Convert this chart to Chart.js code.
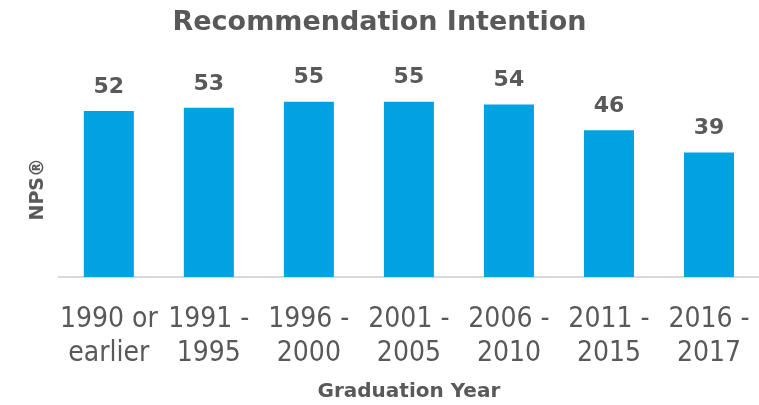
<!DOCTYPE html>
<html>
<head>
<meta charset="utf-8">
<script src="https://cdn.jsdelivr.net/npm/chart.js@4"></script>
<style>
  html, body { margin: 0; padding: 0; background: #fff; }
  #wrap { width: 759px; height: 405px; }
</style>
</head>
<body>
<div id="wrap"><canvas id="npsChart"></canvas></div>
<script>
// categories (graduation year buckets) and NPS values
const gradYears = [
  ['1990 or', 'earlier'],
  ['1991 -', '1995'],
  ['1996 -', '2000'],
  ['2001 -', '2005'],
  ['2006 -', '2010'],
  ['2011 -', '2015'],
  ['2016 -', '2017']
];
const npsValues = [52, 53, 55, 55, 54, 46, 39];

const TEXT = '#595959';
const WIDE = "'DejaVu Sans', Verdana, sans-serif";
const NARROW = "'DejaVu Sans Condensed', 'DejaVu Sans', sans-serif";

// draws the value above each bar
const valueLabels = {
  id: 'valueLabels',
  afterDatasetsDraw(chart) {
    const ctx = chart.ctx;
    const meta = chart.getDatasetMeta(0);
    ctx.save();
    ctx.font = 'bold 22px ' + WIDE;
    ctx.fillStyle = TEXT;
    ctx.textAlign = 'center';
    ctx.textBaseline = 'middle';
    meta.data.forEach((bar, i) => {
      ctx.fillText(npsValues[i], bar.x, bar.y - 24);
    });
    ctx.restore();
  }
};

new Chart(document.getElementById('npsChart'), {
  type: 'bar',
  data: {
    labels: gradYears,
    datasets: [{
      data: npsValues,
      backgroundColor: '#00A3E0',
      barPercentage: 0.5,
      categoryPercentage: 1
    }]
  },
  options: {
    responsive: true,
    maintainAspectRatio: false,
    animation: false,
    layout: { padding: { left: 0, right: 0, top: 0, bottom: 2 } },
    plugins: {
      legend: { display: false },
      tooltip: { enabled: false },
      title: {
        display: true,
        text: 'Recommendation Intention',
        color: TEXT,
        font: { family: WIDE, size: 27, weight: 'bold', lineHeight: 1.2 },
        padding: { top: 7, bottom: 62 }
      }
    },
    scales: {
      x: {
        // tick marks hidden, tickLength only used as the gap under the axis line
        grid: { display: false, drawTicks: true, tickLength: 25 },
        border: { display: true, color: '#D9D9D9', width: 2 },
        ticks: {
          color: TEXT,
          padding: 0,
          autoSkip: false,
          maxRotation: 0,
          minRotation: 0,
          font: { family: NARROW, size: 28, lineHeight: '34.5px' }
        },
        title: {
          display: true,
          text: 'Graduation Year',
          color: TEXT,
          font: { family: WIDE, size: 20, weight: 'bold', lineHeight: 1.2 },
          padding: { top: 9, bottom: -1 }
        }
      },
      y: {
        min: 0,
        max: 55,
        grid: { display: false, drawTicks: false },
        border: { display: false },
        ticks: { display: false },
        title: {
          display: true,
          text: 'NPS®',
          color: TEXT,
          font: { family: WIDE, size: 19, weight: 'bold', lineHeight: 1.2 },
          padding: { top: 27, bottom: 9 }
        }
      }
    }
  },
  plugins: [valueLabels]
});
</script>
</body>
</html>
